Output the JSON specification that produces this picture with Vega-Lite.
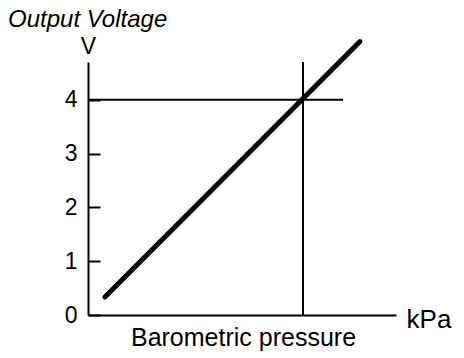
{
  "$schema": "https://vega.github.io/schema/vega-lite/v6.json",
  "width": 308,
  "height": 253,
  "autosize": {"type": "none"},
  "padding": {"left": 88, "top": 62, "right": 68, "bottom": 43},
  "background": "white",
  "config": {"view": {"stroke": null}, "font": "Liberation Sans"},
  "title": {
    "text": "Output Voltage",
    "anchor": "start",
    "frame": "group",
    "font": "Liberation Sans",
    "fontStyle": "italic",
    "fontWeight": "normal",
    "fontSize": 24,
    "color": "black",
    "dx": -80,
    "offset": 0
  },
  "layer": [
    {
      "data": {"values": [{"p": 0.698, "v0": 0, "v1": 4.7}]},
      "mark": {"type": "rule", "color": "black", "strokeWidth": 2},
      "encoding": {
        "x": {"field": "p", "type": "quantitative", "scale": {"domain": [0, 1]},
          "axis": {"domain": true, "domainColor": "black", "domainWidth": 2, "ticks": false, "labels": false, "grid": false,
            "title": "Barometric pressure", "titleFont": "Liberation Sans", "titleFontSize": 25, "titleFontWeight": "normal", "titleColor": "black",
            "titleX": 155, "titleY": 30, "titleBaseline": "alphabetic", "titleAlign": "center"}},
        "y": {"field": "v0", "type": "quantitative", "scale": {"domain": [0, 4.7], "nice": false},
          "axis": {"domain": true, "domainColor": "black", "domainWidth": 2, "grid": false,
            "values": [0, 1, 2, 3, 4], "format": "d", "tickSize": -12, "tickWidth": 2, "tickColor": "black",
            "labelFont": "Liberation Sans", "labelFontSize": 23, "labelColor": "black", "labelPadding": 23,
            "title": "V", "titleFont": "Liberation Sans", "titleFontSize": 23, "titleFontWeight": "normal", "titleColor": "black",
            "titleAngle": 0, "titleX": 0, "titleY": -9, "titleAlign": "center", "titleBaseline": "alphabetic"}},
        "y2": {"field": "v1"}
      }
    },
    {
      "data": {"values": [{"p0": 0, "p1": 0.828, "v": 4}]},
      "mark": {"type": "rule", "color": "black", "strokeWidth": 2},
      "encoding": {
        "x": {"field": "p0", "type": "quantitative"},
        "x2": {"field": "p1"},
        "y": {"field": "v", "type": "quantitative"}
      }
    },
    {
      "data": {"values": [{"p": 0.055, "v": 0.335}, {"p": 0.883, "v": 5.08}]},
      "mark": {"type": "line", "color": "black", "strokeWidth": 5, "strokeCap": "round", "clip": false},
      "encoding": {
        "x": {"field": "p", "type": "quantitative"},
        "y": {"field": "v", "type": "quantitative"}
      }
    },
    {
      "data": {"values": [{"p": 1.107, "v": -0.09, "label": "kPa"}]},
      "mark": {"type": "text", "font": "Liberation Sans", "fontSize": 26, "color": "black", "align": "center", "baseline": "middle"},
      "encoding": {
        "x": {"field": "p", "type": "quantitative"},
        "y": {"field": "v", "type": "quantitative"},
        "text": {"field": "label"}
      }
    }
  ]
}
